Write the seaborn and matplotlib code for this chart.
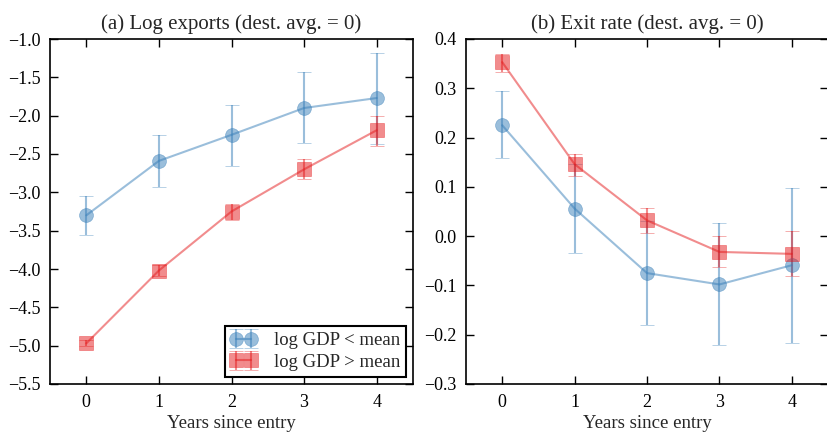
import numpy as np
import matplotlib
matplotlib.use("Agg")
import matplotlib.pyplot as plt
import matplotlib.ticker as mticker
import seaborn as sns

years = [0, 1, 2, 3, 4]

# Panel (a) Log exports
exp_low = [-3.30, -2.59, -2.25, -1.90, -1.77]
exp_low_lo = [-3.56, -2.93, -2.65, -2.36, -2.37]
exp_low_hi = [-3.05, -2.25, -1.86, -1.43, -1.18]
exp_high = [-4.97, -4.02, -3.25, -2.70, -2.19]
exp_high_lo = [-5.01, -4.09, -3.36, -2.83, -2.39]
exp_high_hi = [-4.92, -3.95, -3.15, -2.57, -2.00]

# Panel (b) Exit rate
exit_low = [0.225, 0.056, -0.075, -0.098, -0.059]
exit_low_lo = [0.158, -0.034, -0.180, -0.221, -0.216]
exit_low_hi = [0.294, 0.146, 0.030, 0.027, 0.097]
exit_high = [0.353, 0.146, 0.032, -0.032, -0.036]
exit_high_lo = [0.334, 0.123, 0.006, -0.063, -0.080]
exit_high_hi = [0.370, 0.167, 0.058, 0.000, 0.010]

labels = ["log GDP < mean", "log GDP > mean"]
titles = ["(a) Log exports (dest. avg. = 0)", "(b) Exit rate (dest. avg. = 0)"]

sns.set_theme(style="ticks")
plt.rcParams["font.family"] = ["Liberation Serif", "DejaVu Serif"]
plt.rcParams["axes.linewidth"] = 1.2

blue = "#377eb8"
red = "#e41a1c"

fig = plt.figure(figsize=(8.27, 4.32), dpi=100)
ax1 = fig.add_axes([50/827, 48/432, 363/827, 345/432])
ax2 = fig.add_axes([466/827, 48/432, 362/827, 345/432])

def draw(ax, lo_v, lo_l, lo_h, hi_v, hi_l, hi_h):
    lo_v = np.array(lo_v); hi_v = np.array(hi_v)
    e1 = [lo_v - np.array(lo_l), np.array(lo_h) - lo_v]
    e2 = [hi_v - np.array(hi_l), np.array(hi_h) - hi_v]
    ax.errorbar(years, lo_v, yerr=e1, fmt="o-", color=blue, ecolor=blue, alpha=0.5,
                markersize=10, mec=blue, mew=0.5, capsize=5, capthick=1.8,
                elinewidth=1.5, linewidth=1.5, label=labels[0])
    ax.errorbar(years, hi_v, yerr=e2, fmt="s-", color=red, ecolor=red, alpha=0.5,
                markersize=10, mec=red, mew=0.5, capsize=5, capthick=1.8,
                elinewidth=1.5, linewidth=1.5, label=labels[1])

draw(ax1, exp_low, exp_low_lo, exp_low_hi, exp_high, exp_high_lo, exp_high_hi)
draw(ax2, exit_low, exit_low_lo, exit_low_hi, exit_high, exit_high_lo, exit_high_hi)

fmt = mticker.FuncFormatter(lambda v, p: f"{v:.1f}".replace("-", "\u2212"))
ax1.set_ylim(-5.5, -1.0)
ax1.set_yticks(np.arange(-5.5, -0.99, 0.5))
ax1.yaxis.set_major_formatter(fmt)
ax2.set_ylim(-0.3, 0.4)
ax2.set_yticks(np.arange(-0.3, 0.41, 0.1))
ax2.yaxis.set_major_formatter(fmt)

for ax, t in zip([ax1, ax2], titles):
    ax.set_xlim(-0.5, 4.5)
    ax.set_xticks(years)
    ax.tick_params(axis="both", which="major", direction="in", length=6, width=1,
                   top=True, right=True, labelsize=13, colors="black", pad=7)
    ax.set_title(t, fontsize=15, pad=7)
    ax.set_xlabel("Years since entry", fontsize=13.5, labelpad=3)
    for s in ax.spines.values():
        s.set_color("black")
        s.set_linewidth(1.2)

leg = ax1.legend(loc="lower right", numpoints=2, fancybox=False, fontsize=13.5,
                 edgecolor="black", framealpha=1, borderaxespad=0.4,
                 handlelength=1.4, borderpad=0.3, labelspacing=0.25, handletextpad=0.9)
leg.get_frame().set_linewidth(1.5)

fig.savefig("out.png", dpi=100)
